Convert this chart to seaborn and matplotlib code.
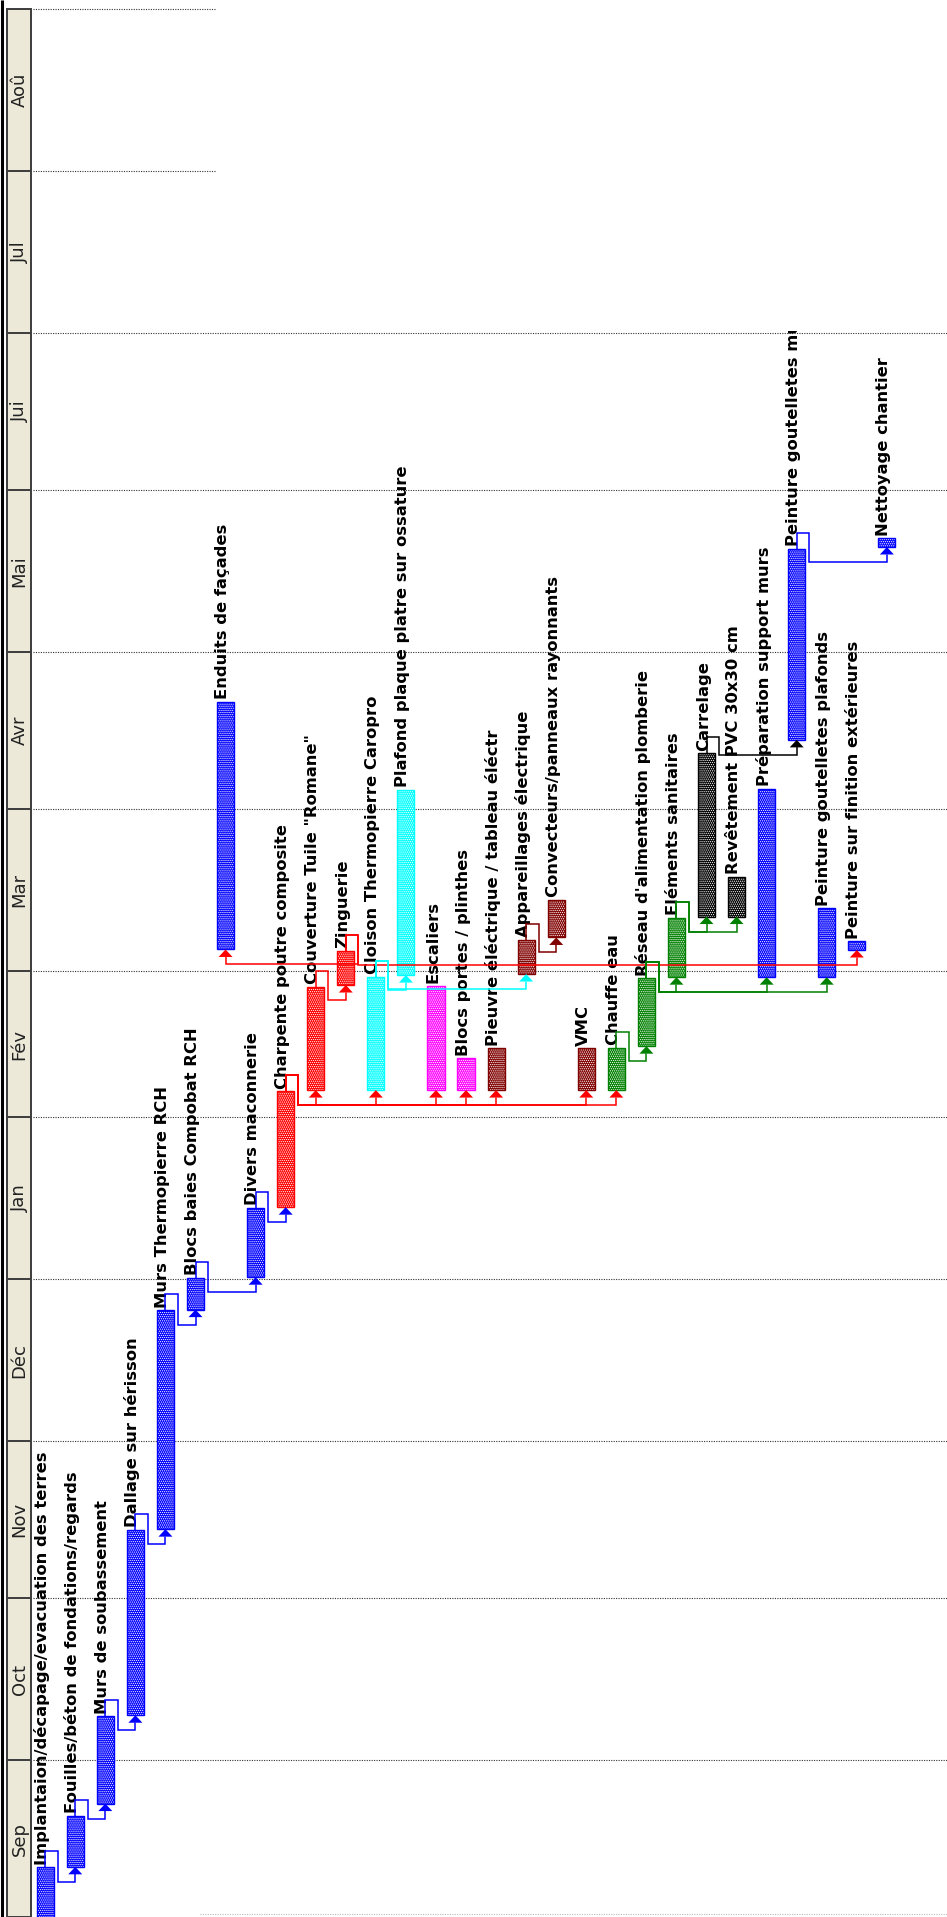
import numpy as np
import pandas as pd
import matplotlib
matplotlib.use("Agg")
import matplotlib.pyplot as plt
from matplotlib.patches import Rectangle
from matplotlib.transforms import Bbox, TransformedBbox
import seaborn as sns

# ---------------------------------------------------------------- data
# Tasks in schedule order (one column each, left to right)
tasks = [
    "Implantaion/décapage/evacuation des terres",
    "Fouilles/béton de fondations/regards",
    "Murs de soubassement",
    "Dallage sur hérisson",
    "Murs Thermopierre RCH",
    "Blocs baies Compobat RCH",
    "Enduits de façades",
    "Divers maconnerie",
    "Charpente poutre composite",
    "Couverture Tuile \"Romane\"",
    "Zinguerie",
    "Cloison Thermopierre Caropro",
    "Plafond plaque platre sur ossature",
    "Escaliers",
    "Blocs portes / plinthes",
    "Pieuvre éléctrique / tableau éléctr",
    "Appareillages électrique",
    "Convecteurs/panneaux rayonnants",
    "VMC",
    "Chauffe eau",
    "Réseau d'alimentation plomberie",
    "Eléments sanitaires",
    "Carrelage",
    "Revêtement PVC 30x30 cm",
    "Préparation support murs",
    "Peinture goutelletes murs",
    "Peinture goutelletes plafonds",
    "Peinture sur finition extérieures",
    "Nettoyage chantier",
]

# Start / finish, in days after 1 September
start_day = [0.0, 9.6, 21.7, 38.6, 74.2, 116.2, 185.1, 122.4, 135.8, 158.2,
             178.3, 158.2, 180.2, 158.2, 158.2, 158.2, 180.4, 187.4, 158.2,
             158.2, 166.6, 179.8, 191.4, 191.4, 179.8, 225.2, 179.8, 185.0,
             262.1]
finish_day = [9.5, 19.4, 38.4, 74.1, 116.1, 122.3, 232.5, 135.7, 158.0, 178.0,
              184.8, 179.9, 215.7, 178.2, 164.3, 166.2, 187.0, 194.6, 166.2,
              166.3, 179.6, 191.2, 222.6, 199.0, 215.8, 261.8, 193.0, 186.7,
              263.8]

# Trade of each task
trade = (["Gros oeuvre"] * 8 + ["Charpente / couverture"] * 3
         + ["Cloisons / plafonds"] * 2 + ["Menuiseries"] * 2
         + ["Electricité / VMC"] * 4 + ["Plomberie"] * 3
         + ["Revêtements de sol"] * 2 + ["Peinture / nettoyage"] * 5)

# Finish-to-start dependencies (predecessor, successor)
links = [(0, 1), (1, 2), (2, 3), (3, 4), (4, 5), (5, 7), (7, 8),
         (8, 9), (8, 11), (8, 13), (8, 14), (8, 15), (8, 18), (8, 19),
         (9, 10), (10, 6), (10, 27), (11, 12), (11, 16), (16, 17),
         (19, 20), (20, 21), (20, 24), (20, 26), (21, 22), (21, 23),
         (22, 25), (25, 28)]

# Timescale: month names and their first day (days after 1 September)
months = ["Sep", "Oct", "Nov", "Déc", "Jan", "Fév", "Mar", "Avr", "Mai",
          "Jui", "Jul", "Aoû"]
month_start = [0, 30, 61, 91, 122, 153, 181, 212, 242, 273, 303, 334, 365]

# ---------------------------------------------------------------- styles
palette = {
    "Gros oeuvre": "#0000FF",
    "Charpente / couverture": "#FF0000",
    "Cloisons / plafonds": "#00FFFF",
    "Menuiseries": "#FF00FF",
    "Electricité / VMC": "#800000",
    "Plomberie": "#008000",
    "Revêtements de sol": "#000000",
    "Peinture / nettoyage": "#0000FF",
}

W_PX, H_PX = 947, 1917
PX_PER_DAY = 5.227
PX_PER_TASK = 30.06
X0_PX = 45.2                       # centre of the first task column

BAR_W = 0.57                       # bar width, in task columns
UP = 16 / PX_PER_DAY               # link rises above predecessor finish
JOG = 12.5 / PX_PER_TASK           # sideways step of a link
DROP = 15 / PX_PER_DAY             # link runs below successor start
ARROW_H = 7.5 / PX_PER_DAY
ARROW_HW = 7 / PX_PER_TASK

df = pd.DataFrame({
    "task": tasks,
    "pos": np.arange(len(tasks)),
    "start": start_day,
    "finish": finish_day,
    "trade": trade,
})
df["duration"] = df["finish"] - df["start"]
df["color"] = df["trade"].map(palette)

sns.set_theme(style="white")
plt.rcParams["font.family"] = ["DejaVu Sans"]
plt.rcParams["hatch.linewidth"] = 0.6

fig = plt.figure(figsize=(W_PX / 100, H_PX / 100), dpi=100)
ax = fig.add_axes([0, 0, 1, 1])

# ---------------------------------------------------------------- bars
for name, sub in df.groupby("trade", sort=False):
    sub = sub.sort_values("pos")
    col = palette[name]
    # fine dotted fill
    sns.barplot(data=sub, x="pos", y="duration", orient="x", native_scale=True,
                color=col, saturation=1, errorbar=None, width=BAR_W,
                bottom=sub["start"].to_numpy(), hatch="........",
                edgecolor="white", linewidth=0, ax=ax, zorder=3)
    # outline
    sns.barplot(data=sub, x="pos", y="duration", orient="x", native_scale=True,
                color=col, saturation=1, errorbar=None, width=BAR_W,
                bottom=sub["start"].to_numpy(), fill=False, linewidth=1.0,
                ax=ax, zorder=3)

xmin = -X0_PX / PX_PER_TASK
xmax = (W_PX - X0_PX) / PX_PER_TASK
ax.set_xlim(xmin, xmax)
ax.set_ylim(0, H_PX / PX_PER_DAY)
ax.set_axis_off()

yax = ax.get_yaxis_transform()

# ---------------------------------------------------------------- timescale
def fx(px):
    return px / W_PX

# month grid lines (drawn in two panels)
for d in month_start[1:]:
    kw = dict(transform=yax, colors="#333333", linewidth=0.8,
              linestyles=(0, (1, 1.2)), zorder=1)
    if d >= 334:
        ax.hlines(d, fx(33), fx(215), **kw)
    else:
        ax.hlines(d, fx(33), fx(198), **kw)
        ax.hlines(d, fx(200), 1, **kw)
ax.hlines(0.5, fx(200), 1, transform=yax, colors="#BBBBBB", linewidth=0.8,
          linestyles=(0, (1, 1.2)), zorder=1)

# month header band
ax.add_patch(Rectangle((fx(7), 0), fx(24), month_start[-1], transform=yax,
                       facecolor="#ECE9D8", edgecolor="#3C3C3C",
                       linewidth=1.4, zorder=2))
ax.hlines(month_start[1:-1], fx(7), fx(31), transform=yax, colors="#3C3C3C",
          linewidth=1.4, zorder=2)
ax.plot([fx(1.5), fx(1.5)], [0, 1], transform=ax.transAxes, color="black",
        linewidth=2.2, zorder=2, solid_capstyle="butt")
for m, a, b in zip(months, month_start[:-1], month_start[1:]):
    ax.text(fx(19.5), (a + b) / 2, m, transform=yax, rotation=90,
            ha="center", va="center", fontsize=13, color="#222222", zorder=4)

# ---------------------------------------------------------------- links
pos = df["pos"].to_numpy()
st = df["start"].to_numpy()
fi = df["finish"].to_numpy()
cols = df["color"].to_numpy()
for p, s in links:
    c = cols[p]
    y_up = fi[p] + UP
    x_jog = pos[p] + JOG
    y_low = st[s] - DROP
    ax.plot([pos[p], pos[p], x_jog, x_jog, pos[s], pos[s]],
            [fi[p], y_up, y_up, y_low, y_low, st[s] - ARROW_H],
            color=c, linewidth=1.1, zorder=6, solid_joinstyle="miter")
    ax.fill([pos[s] - ARROW_HW, pos[s] + ARROW_HW, pos[s]],
            [st[s] - ARROW_H, st[s] - ARROW_H, st[s]],
            color=c, linewidth=0, zorder=6)

# ---------------------------------------------------------------- labels
clip = TransformedBbox(Bbox([[xmin, -10], [xmax, month_start[10] + 0.5]]),
                       ax.transData)
for i, row in df.iterrows():
    t = ax.text(row["pos"] - 0.1, row["finish"] + 0.5, row["task"],
                rotation=90, ha="center", va="bottom", fontsize=11.8,
                fontweight="bold", color="black", zorder=5)
    if row["finish"] > month_start[10] - 60:
        t.set_clip_box(clip)
        t.set_clip_on(True)

fig.savefig("out.png", dpi=100)
